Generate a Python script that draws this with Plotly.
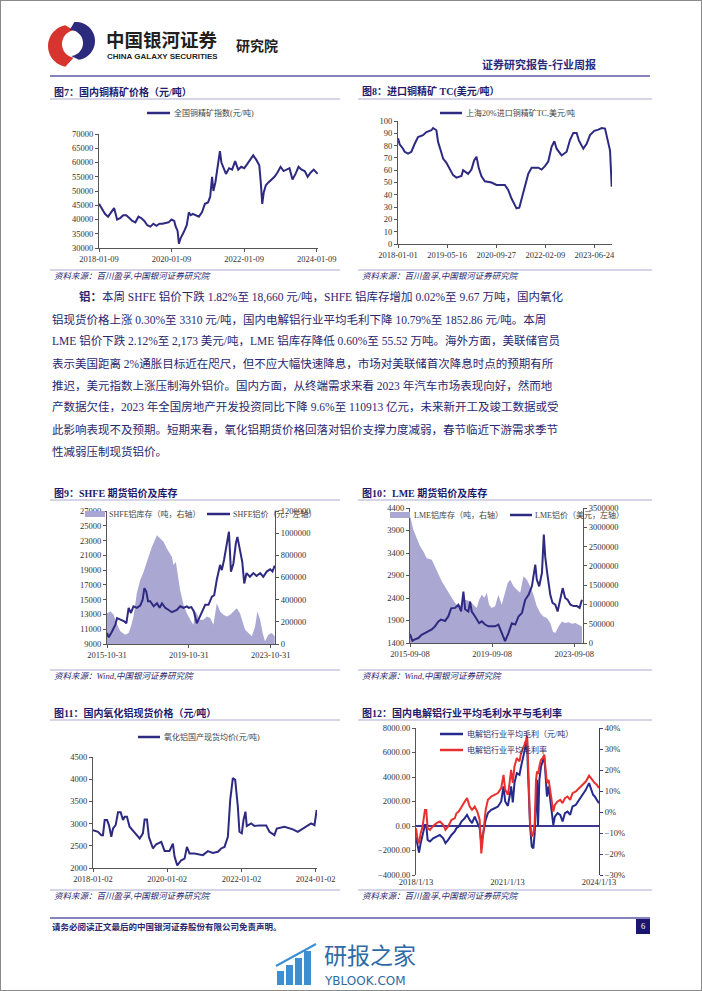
import math
import plotly.graph_objects as go

W, H = 702, 991
SERIF = "Liberation Serif, Noto Sans CJK SC"
CJK = "Noto Sans CJK SC"
NAVY = "#2e2a82"
TXT = "#2a276e"
LAV = "#aaa7d3"
RULE = "#aeacd2"
TICK = "#333333"
AX = "#555555"

# ---------------- data ----------------
# Fig 7: 全国铜精矿指数 (元/吨)
d7 = ['2018-01-09','2018-02-10','2018-03-10','2018-04-10','2018-05-10','2018-06-10','2018-07-10','2018-08-10','2018-09-10','2018-10-10','2018-11-10','2018-12-10',
      '2019-01-10','2019-02-10','2019-03-10','2019-04-10','2019-05-10','2019-06-10','2019-07-10','2019-08-10','2019-09-10','2019-10-10','2019-11-10','2019-12-10',
      '2020-01-09','2020-02-05','2020-02-20','2020-03-10','2020-03-23','2020-04-10','2020-05-10','2020-06-10','2020-07-01','2020-07-20','2020-08-10','2020-09-10','2020-10-10','2020-11-10','2020-12-10',
      '2021-01-10','2021-02-01','2021-02-20','2021-03-05','2021-03-25','2021-04-15','2021-05-10','2021-05-25','2021-06-15','2021-07-10','2021-08-10','2021-09-10','2021-10-10','2021-11-10','2021-12-10',
      '2022-01-10','2022-02-10','2022-03-10','2022-04-10','2022-05-10','2022-06-10','2022-06-25','2022-07-10','2022-07-25','2022-08-15','2022-09-10','2022-10-10','2022-11-10','2022-12-10',
      '2023-01-10','2023-02-10','2023-03-10','2023-04-10','2023-05-10','2023-06-10','2023-07-10','2023-08-10','2023-09-10','2023-10-10','2023-11-10','2023-12-10','2024-01-19']
v7 = [45500,43500,42000,41000,42500,44000,40000,40500,41500,41500,40500,39500,
      39000,41000,40500,39500,38000,37500,38500,37800,38500,38500,38800,39000,
      40000,39500,37500,36000,31500,33500,35500,38000,42500,41500,42000,41500,41000,42500,45500,
      46000,48000,55000,50000,53000,57500,64000,60000,58000,56000,58000,57500,60500,57500,58500,
      58000,59500,61000,62500,61000,59000,53000,45500,49500,52000,53000,54000,55000,56500,
      58500,57000,57500,58000,54000,56000,58500,57500,57000,55000,56500,57500,56000]
ticks7 = ['2018-01-09','2020-01-09','2022-01-09','2024-01-09']
labels7 = ['2018-01-09','2020-01-09','2022-01-09','2024-01-09']

# Fig 8: 上海20%进口铜精矿TC (美元/吨)
d8 = ['2018-01-01','2018-01-18','2018-02-21','2018-03-10','2018-04-13','2018-05-17','2018-06-20','2018-07-24','2018-09-13','2018-10-17',
      '2018-12-07','2018-12-24','2019-01-27','2019-02-13','2019-03-12','2019-04-05','2019-05-09','2019-06-12','2019-07-16','2019-08-19',
      '2019-10-09','2019-10-26','2019-12-16','2020-01-19','2020-02-15','2020-03-10','2020-04-03','2020-04-30','2020-06-03','2020-08-10',
      '2020-09-30','2020-12-24','2021-01-27','2021-03-02','2021-03-30','2021-04-22','2021-05-20','2021-06-12','2021-07-16','2021-08-19',
      '2021-09-22','2021-11-29','2022-01-02','2022-02-05','2022-03-11','2022-04-14','2022-05-12','2022-06-04','2022-07-25','2022-09-14',
      '2022-10-18','2022-11-21','2022-12-25','2023-01-18','2023-03-03','2023-04-06','2023-05-10','2023-06-23','2023-08-03','2023-09-06',
      '2023-10-10','2023-11-03','2023-11-30','2023-12-17']
v8 = [86,81,77.5,75,73.5,75,81.5,87,88.5,91,
      92.5,94.3,92.5,83,76,69.5,66,61.5,56,54,
      55.3,60,57,60.5,68,71,61.5,55,51,50,
      48,48,44,37,32,29,29.5,37,46.5,57,
      62,62,60.5,63.3,67,79,83.5,77.5,72,75,
      84.5,90.3,90.3,84,77.5,81.5,88.5,92,93,94.3,
      93.8,85.7,76,46.5]
ticks8 = ['2018-01-01','2019-05-16','2020-09-27','2022-02-09','2023-06-24']

# Fig 9: SHFE 铝价 (元/吨, 左) & SHFE 铝库存 (吨, 右)
d9p = ['2015-10-31','2015-12-01','2016-01-28','2016-03-28','2016-04-27','2016-06-25','2016-08-25','2016-10-10','2016-11-20','2016-12-31',
       '2017-02-15','2017-04-15','2017-06-15','2017-07-28','2017-08-28','2017-10-01','2017-11-01','2017-12-10','2018-02-10','2018-04-10',
       '2018-05-28','2018-07-08','2018-09-05','2018-11-05','2018-12-31','2019-03-31','2019-05-28','2019-07-28','2019-09-25','2019-10-31',
       '2019-12-15','2020-01-28','2020-03-20','2020-04-20','2020-06-18','2020-08-18','2020-10-15','2020-12-15','2021-01-25','2021-03-12',
       '2021-05-10','2021-06-10','2021-07-20','2021-09-05','2021-10-15','2021-11-20','2022-01-03','2022-02-15','2022-03-15','2022-04-30',
       '2022-06-10','2022-07-15','2022-08-25','2022-10-25','2022-12-25','2023-02-20','2023-04-25','2023-06-20','2023-08-20','2023-10-20',
       '2023-12-01','2024-01-10']
v9p = [10500,9900,10700,11600,12500,12300,12100,11800,13900,13200,
       14100,13900,14200,15000,16550,16100,14800,14800,14100,14500,
       13900,14500,13900,13600,13300,13600,14100,13900,14100,13900,
       14000,13400,11800,12300,13400,14300,14300,15400,15600,17700,
       19700,19000,20400,22200,24200,18800,19900,22600,23500,21700,
       20100,17200,18600,18100,18600,18200,18600,18100,18800,19100,
       18800,19600]
d9i = ['2015-10-31','2015-12-31','2016-02-28','2016-04-15','2016-06-25','2016-09-20','2016-11-20','2016-12-31','2017-02-15','2017-04-15',
       '2017-06-15','2017-08-15','2017-10-12','2018-01-10','2018-04-10','2018-06-05','2018-08-05','2018-10-03','2018-12-31','2019-01-31',
       '2019-03-12','2019-04-12','2019-05-28','2019-07-28','2019-09-25','2019-11-25','2020-01-20','2020-02-20','2020-03-20','2020-05-05',
       '2020-07-18','2020-09-15','2020-11-15','2021-01-12','2021-03-12','2021-05-10','2021-07-10','2021-09-05','2021-11-05','2022-01-03',
       '2022-03-03','2022-04-30','2022-06-18','2022-07-31','2022-09-28','2022-11-28','2023-01-25','2023-03-06','2023-04-25','2023-06-08',
       '2023-07-20','2023-09-18','2023-11-18','2024-01-10']
v9i = [278000,293000,263000,189000,114000,84000,99000,159000,249000,458000,
       578000,653000,743000,877000,982000,952000,922000,862000,787000,713000,
       743000,638000,488000,353000,278000,219000,174000,293000,278000,219000,
       219000,249000,234000,174000,368000,293000,263000,249000,263000,293000,
       323000,278000,189000,129000,99000,69000,159000,293000,219000,99000,
       24000,84000,99000,69000]
ticks9 = ['2015-10-31','2019-10-31','2023-10-31']

# Fig 10: LME 铝价 (美元, 左) & LME 铝库存 (吨, 右)
d10p = ['2015-09-08','2015-10-19','2015-12-05','2016-02-04','2016-04-01','2016-06-01','2016-07-30','2016-09-30','2016-11-25','2017-01-25',
        '2017-03-12','2017-05-23','2017-07-20','2017-09-08','2017-11-17','2018-01-17','2018-03-05','2018-04-15','2018-05-15','2018-07-12',
        '2018-08-12','2018-09-10','2018-11-08','2019-01-20','2019-03-08','2019-05-05','2019-07-05','2019-09-14','2019-10-30','2019-12-28',
        '2020-02-25','2020-04-25','2020-06-25','2020-08-23','2020-10-23','2020-12-20','2021-02-20','2021-04-18','2021-06-17','2021-08-15',
        '2021-10-14','2021-11-10','2021-12-23','2022-02-10','2022-03-15','2022-04-08','2022-05-14','2022-07-08','2022-08-17','2022-10-05',
        '2022-11-15','2023-01-02','2023-02-14','2023-03-30','2023-05-12','2023-07-02','2023-08-28','2023-10-26','2023-12-11','2024-01-22']
v10p = [1600,1450,1480,1510,1580,1620,1660,1700,1770,1880,
        1920,1890,1990,2170,2180,2250,2100,2540,2150,2100,
        2320,2100,1990,1840,1880,1810,1770,1770,1770,1810,
        1620,1440,1620,1840,1810,1990,2070,2360,2470,2660,
        3140,2810,2660,2960,3810,3330,2960,2470,2290,2250,
        2100,2360,2620,2400,2360,2250,2220,2220,2180,2360]
d10i = ['2015-09-08','2015-11-05','2016-01-05','2016-03-05','2016-05-01','2016-07-01','2016-09-30','2016-11-25','2017-01-25','2017-03-25',
        '2017-06-25','2017-09-20','2017-11-17','2018-01-17','2018-03-15','2018-05-15','2018-08-12','2018-10-10','2018-12-08','2019-01-20',
        '2019-03-08','2019-04-23','2019-06-05','2019-07-15','2019-09-01','2019-10-30','2019-12-28','2020-02-25','2020-04-25','2020-06-12',
        '2020-07-25','2020-09-22','2020-11-20','2021-01-20','2021-03-18','2021-05-17','2021-07-15','2021-09-12','2021-11-10','2022-01-10',
        '2022-03-08','2022-05-08','2022-07-08','2022-08-23','2022-10-05','2022-12-02','2023-02-01','2023-03-30','2023-05-30','2023-07-28',
        '2023-09-25','2023-11-23','2024-01-22']
v10i = [3300000,2940000,2720000,2510000,2380000,2200000,2160000,1990000,1770000,1600000,
        1380000,1170000,1040000,950000,990000,1120000,1080000,990000,910000,1120000,
        1250000,1170000,1300000,990000,910000,950000,1250000,990000,1300000,1560000,
        1640000,1470000,1380000,1300000,1730000,1640000,1470000,1250000,950000,780000,
        690000,650000,520000,300000,260000,430000,560000,520000,540000,500000,
        520000,480000,430000]
ticks10 = ['2015-09-08','2019-09-08','2023-09-08']

# Fig 11: 氧化铝国产现货均价 (元/吨)
d11 = ['2018-01-02','2018-02-20','2018-03-25','2018-04-10','2018-04-27','2018-05-20','2018-06-08','2018-07-01','2018-07-18','2018-08-13',
       '2018-09-05','2018-10-01','2018-10-24','2018-11-09','2018-12-02','2018-12-28','2019-02-16','2019-04-06','2019-05-08','2019-05-25',
       '2019-06-17','2019-07-06','2019-08-15','2019-09-16','2019-11-05','2019-12-07','2020-01-25','2020-02-27','2020-03-15','2020-04-10',
       '2020-05-19','2020-06-21','2020-07-14','2020-08-09','2020-09-27','2020-12-18','2021-02-05','2021-03-26','2021-05-15','2021-06-16',
       '2021-07-19','2021-08-21','2021-09-13','2021-10-09','2021-11-01','2021-11-27','2021-12-13','2022-01-05','2022-01-22','2022-02-10',
       '2022-02-23','2022-04-07','2022-05-10','2022-06-28','2022-09-02','2022-10-04','2022-11-22','2022-12-15','2023-03-01','2023-05-22',
       '2023-07-10','2023-08-28','2023-10-16','2023-11-18','2023-12-21','2024-01-12']
v11 = [2850,2815,2740,2740,3080,3080,2965,2700,2890,2965,
       3255,3255,3080,3155,3155,2930,2795,2665,2780,3095,
       3095,2700,2440,2535,2590,2385,2385,2550,2250,2060,
       2175,2210,2475,2325,2325,2290,2380,2340,2365,2440,
       2475,2700,3535,4025,3985,3385,2815,2780,3080,3270,
       2945,3005,2945,2960,2960,2815,2740,2890,2930,2870,
       2815,2890,2965,3005,2965,3310]
ticks11 = ['2018-01-02','2020-01-02','2022-01-02','2024-01-02']
labels11 = ['2018-01-02','2020-01-02','2022-01-02','2024-01-02']

# Fig 12: 电解铝行业平均毛利 (元/吨, 左) & 毛利率 (%, 右)
d12 = ['2018-01-13','2018-02-02','2018-02-18','2018-03-10','2018-04-02','2018-04-30','2018-05-16','2018-06-01','2018-06-29','2018-08-07',
       '2018-09-16','2018-10-26','2018-12-05','2019-01-01','2019-02-02','2019-03-14','2019-04-22','2019-05-12','2019-06-09','2019-07-11',
       '2019-08-20','2019-09-16','2019-10-18','2019-11-15','2019-12-17','2020-01-17','2020-02-14','2020-03-05','2020-04-02','2020-04-26',
       '2020-05-23','2020-07-02','2020-08-11','2020-09-20','2020-10-29','2020-11-26','2020-12-16','2021-01-17','2021-02-06','2021-02-25',
       '2021-03-17','2021-04-06','2021-05-04','2021-06-05','2021-06-24','2021-07-14','2021-08-03','2021-08-23','2021-09-04','2021-09-12',
       '2021-09-24','2021-10-10','2021-10-30','2021-11-18','2021-12-04','2021-12-20','2022-01-01','2022-01-13','2022-01-29','2022-02-18',
       '2022-03-10','2022-03-29','2022-04-10','2022-04-30','2022-05-20','2022-06-09','2022-06-29','2022-07-15','2022-08-03','2022-09-04',
       '2022-10-06','2022-11-03','2022-12-01','2023-01-01','2023-02-02','2023-03-02','2023-04-11','2023-05-20','2023-06-29','2023-08-08',
       '2023-09-16','2023-10-06','2023-11-03','2023-11-23','2023-12-17','2024-01-12']
profit12 = [-900,-1680,-2170,-1400,-590,90,90,-1135,-1270,-1000,
            -860,-730,-1000,-1400,-1135,-730,-450,-180,-45,365,
            640,910,500,230,770,230,-180,-1400,-320,500,
            1050,1320,1450,1590,2000,3230,2000,1640,2410,3230,
            1920,3500,4320,4180,4860,5410,5950,6500,7050,5000,
            1860,-45,-1680,-1820,-590,2410,3770,0,3770,4860,
            5410,5680,4450,2410,3230,2140,910,90,770,1050,
            910,365,1050,1180,910,1590,1730,2140,2550,2950,
            3500,3090,2550,2410,2140,1860]
margin12 = [-7.7,-13.3,-14.9,-10.1,-6.9,1.0,1.0,-7.7,-8.5,-6.6,
            -5.3,-4.5,-6.1,-8.5,-6.9,-3.7,-3.0,-0.6,0.2,2.6,
            5.0,6.6,2.6,1.0,2.6,0.2,-3.7,-19.7,-8.5,1.0,
            5.8,7.4,8.2,9.0,11.4,17.7,10.6,8.2,13.8,20.1,
            13.8,21.7,25.7,24.1,28.1,29.7,32.0,34.4,36.3,28.1,
            9.0,-5.3,-11.7,-10.1,-5.3,15.3,19.3,18.0,21.7,24.9,
            25.7,27.3,21.7,13.8,15.3,10.6,4.2,0.2,3.4,5.0,
            5.8,4.2,6.6,7.4,5.8,9.0,9.8,11.4,13.0,14.5,
            17.3,16.1,14.5,13.8,13.0,11.4]
ticks12 = ['2018-01-13','2021-01-13','2024-01-13']
labels12 = ['2018/1/13','2021/1/13','2024/1/13']

body_lines = [
    "<b>铝：</b>本周 SHFE 铝价下跌 1.82%至 18,660 元/吨，SHFE 铝库存增加 0.02%至 9.67 万吨，国内氧化",
    "铝现货价格上涨 0.30%至 3310 元/吨，国内电解铝行业平均毛利下降 10.79%至 1852.86 元/吨。本周",
    "LME 铝价下跌 2.12%至 2,173 美元/吨，LME 铝库存降低 0.60%至 55.52 万吨。海外方面，美联储官员",
    "表示美国距离 2%通胀目标近在咫尺，但不应大幅快速降息，市场对美联储首次降息时点的预期有所",
    "推迟，美元指数上涨压制海外铝价。国内方面，从终端需求来看 2023 年汽车市场表现向好，然而地",
    "产数据欠佳，2023 年全国房地产开发投资同比下降 9.6%至 110913 亿元，未来新开工及竣工数据或受",
    "此影响表现不及预期。短期来看，氧化铝期货价格回落对铝价支撑力度减弱，春节临近下游需求季节",
    "性减弱压制现货铝价。",
]

# ---------------- helpers ----------------
def X(x): return x / W
def Y(y): return 1 - y / H
def xd(a, b): return [a / W, b / W]
def yd(top, bot): return [1 - bot / H, 1 - top / H]

shapes, annotations = [], []

def line(x0, y0, x1, y1, color, width=1):
    shapes.append(dict(type='line', xref='paper', yref='paper', x0=X(x0), y0=Y(y0), x1=X(x1), y1=Y(y1),
                       line=dict(color=color, width=width), layer='above'))

def rect(x0, y0, x1, y1, fill, lc=None, lw=0):
    shapes.append(dict(type='rect', xref='paper', yref='paper', x0=X(x0), y0=Y(y0), x1=X(x1), y1=Y(y1),
                       fillcolor=fill, line=dict(color=lc or fill, width=lw), layer='above'))

def poly(points, fill):
    p = "M " + " L ".join(f"{X(a):.5f},{Y(b):.5f}" for a, b in points) + " Z"
    shapes.append(dict(type='path', xref='paper', yref='paper', path=p, fillcolor=fill,
                       line=dict(width=0, color=fill), layer='above'))

def text(x, y, s, size, color=TXT, anchor='left', family=SERIF):
    annotations.append(dict(x=X(x), y=Y(y), xref='paper', yref='paper', text=s, showarrow=False,
                            xanchor=anchor, yanchor='middle', font=dict(size=size, color=color, family=family)))

tickfont = dict(family=SERIF, size=8.5, color=TICK)

def xaxis(dom, anchor, rng, tv, tt, showline=True):
    return dict(domain=xd(*dom), anchor=anchor, type='date', range=rng, tickmode='array', tickvals=tv,
                ticktext=tt, showline=showline, linecolor=AX, linewidth=1, automargin=False,
                ticks='outside' if showline else '', ticklen=3, tickcolor=AX, showgrid=False,
                zeroline=False, tickfont=tickfont, tickangle=0, fixedrange=True)

def yaxis(anchor, rng, dtick, dom=None, side='left', overlaying=None, fmt='d', lc=AX, suffix=''):
    d = dict(anchor=anchor, range=rng, tick0=rng[0], dtick=dtick, side=side, showline=True,
             linecolor=lc, linewidth=1, ticks='outside', ticklen=3, tickcolor=lc, showgrid=False,
             zeroline=False, tickfont=tickfont, fixedrange=True, ticksuffix=suffix,
             tickformat=fmt, automargin=False)
    if overlaying:
        d['overlaying'] = overlaying
    else:
        d['domain'] = yd(*dom)
    return d

fig = go.Figure()

# ---------------- traces ----------------
fig.add_trace(go.Scatter(x=d7, y=v7, mode='lines', line=dict(color=NAVY, width=2), xaxis='x', yaxis='y'))
fig.add_trace(go.Scatter(x=d8, y=v8, mode='lines', line=dict(color=NAVY, width=2), xaxis='x2', yaxis='y2'))
fig.add_trace(go.Scatter(x=d9i, y=v9i, mode='lines', fill='tozeroy', fillcolor=LAV, line=dict(width=0, color=LAV),
                         xaxis='x3', yaxis='y3'))
fig.add_trace(go.Scatter(x=d9p, y=v9p, mode='lines', line=dict(color=NAVY, width=2), xaxis='x3', yaxis='y4'))
fig.add_trace(go.Scatter(x=d10i, y=v10i, mode='lines', fill='tozeroy', fillcolor=LAV, line=dict(width=0, color=LAV),
                         xaxis='x4', yaxis='y5'))
fig.add_trace(go.Scatter(x=d10p, y=v10p, mode='lines', line=dict(color=NAVY, width=2), xaxis='x4', yaxis='y6'))
fig.add_trace(go.Scatter(x=d11, y=v11, mode='lines', line=dict(color=NAVY, width=2), xaxis='x5', yaxis='y7'))
fig.add_trace(go.Scatter(x=d12, y=profit12, mode='lines', line=dict(color='#262a8c', width=2), xaxis='x6', yaxis='y8'))
fig.add_trace(go.Scatter(x=d12, y=margin12, mode='lines', line=dict(color='#e8312f', width=2), xaxis='x6', yaxis='y9'))

layout = dict(
    width=W, height=H, margin=dict(l=0, r=0, t=0, b=0, autoexpand=False), showlegend=False,
    paper_bgcolor='white', plot_bgcolor='white',
    xaxis=xaxis((99, 318), 'y', ['2018-01-09', '2024-01-22'], ticks7, labels7),
    yaxis=yaxis('x', [30000, 70000], 5000, dom=(134, 248)),
    xaxis2=xaxis((398, 612), 'y2', ['2018-01-01', '2023-12-20'], ticks8, ticks8),
    yaxis2=yaxis('x2', [0, 100], 10, dom=(121, 244)),
    xaxis3=xaxis((107, 275), 'y3', ['2015-10-31', '2024-01-15'], ticks9, ticks9),
    yaxis3=yaxis('x3', [0, 1200000], 200000, dom=(511, 644), side='right'),
    yaxis4=yaxis('x3', [9000, 27000], 2000, side='left', overlaying='y3'),
    xaxis4=xaxis((410, 583), 'y5', ['2015-09-08', '2024-02-10'], ticks10, ticks10),
    yaxis5=yaxis('x4', [0, 3500000], 500000, dom=(508, 643), side='right'),
    yaxis6=yaxis('x4', [1400, 4400], 500, side='left', overlaying='y5'),
    xaxis5=xaxis((93, 317), 'y7', ['2018-01-02', '2024-01-15'], ticks11, labels11),
    yaxis7=yaxis('x5', [2000, 4500], 500, dom=(757, 868)),
    xaxis6=xaxis((416, 599), 'y8', ['2018-01-13', '2024-01-13'], ticks12, labels12, showline=False),
    yaxis8=yaxis('x6', [-4000, 8000], 2000, dom=(728, 875), fmt='.2f'),
    yaxis9=yaxis('x6', [-30, 40], 10, side='right', overlaying='y8', lc='#3b3791', suffix='%'),
)
layout['yaxis8'].update(zeroline=True, zerolinecolor='#3b3791', zerolinewidth=1.5)

# ---------------- header ----------------
# logo swirl
red_pts = [(69 + 21 * math.cos(math.radians(t)), 46 + 21 * math.sin(math.radians(t))) for t in range(100, 261, 8)]
red_pts += [(76 + 14 * math.cos(math.radians(t)), 44 + 14 * math.sin(math.radians(t))) for t in range(260, 99, -8)]
poly(red_pts, '#d7332f')
blue_pts = [(76 + 19 * math.cos(math.radians(t)), 41 + 19 * math.sin(math.radians(t))) for t in range(-95, 86, 8)]
blue_pts += [(70 + 13 * math.cos(math.radians(t)), 43 + 13 * math.sin(math.radians(t))) for t in range(85, -96, -8)]
poly(blue_pts, '#2c2a7c')
text(104, 39, "<b>中国银河证券</b>", 18.5, '#231f20', family=CJK)
text(105, 56, "<b>CHINA GALAXY SECURITIES</b>", 8, '#231f20', family="Liberation Sans")
text(234, 45, "<b>研究院</b>", 14, '#231f20', family=CJK)
text(598, 64, "<b>证券研究报告-行业周报</b>", 11, '#2b2a7c', anchor='right', family=CJK)
line(50, 76, 650, 76, '#5c58a8', 1.5)

# ---------------- figure titles / sources ----------------
def panel(x0, x1, ytitle, title, ysrc, src):
    text(x0 + 2, ytitle, "<b>" + title + "</b>", 10, '#1f1b6b', family=SERIF)
    line(x0, ytitle + 7, x1, ytitle + 7, RULE, 1)
    line(x0, ysrc - 6, x1, ysrc - 6, RULE, 1)
    text(x0 + 2, ysrc, "<i>" + src + "</i>", 8.5, '#2a276e', family=SERIF)

panel(50, 340, 92, "图7：国内铜精矿价格（元/吨）", 276, "资料来源：百川盈孚,中国银河证券研究院")
panel(358, 652, 92, "图8：进口铜精矿 TC(美元/吨）", 276, "资料来源：百川盈孚,中国银河证券研究院")
panel(50, 340, 493, "图9：SHFE 期货铝价及库存", 676, "资料来源：Wind,中国银河证券研究院")
panel(358, 652, 493, "图10：LME 期货铝价及库存", 676, "资料来源：Wind,中国银河证券研究院")
panel(50, 340, 713, "图11：国内氧化铝现货价格（元/吨）", 896, "资料来源：百川盈孚,中国银河证券研究院")
panel(358, 652, 713, "图12：国内电解铝行业平均毛利水平与毛利率", 896, "资料来源：百川盈孚,中国银河证券研究院")

# ---------------- legends ----------------
LEGC = '#444444'
line(147, 113, 170, 113, NAVY, 2.5); text(172, 113, "全国铜精矿指数(元/吨)", 8, LEGC)
line(440, 113, 462, 113, NAVY, 2.5); text(464, 113, "上海20%进口铜精矿TC,美元/吨", 8, LEGC)
rect(85, 511, 105, 517, LAV); text(107, 514, "SHFE铝库存（吨，右轴）", 8, LEGC)
line(207, 514, 230, 514, NAVY, 2.5); text(231, 514, "SHFE铝价（元，左轴）", 8, LEGC)
rect(390, 512, 410, 518, LAV); text(412, 515, "LME铝库存（吨，右轴）", 8, LEGC)
line(510, 515, 532, 515, NAVY, 2.5); text(533, 515, "LME铝价（美元，左轴）", 8, LEGC)
line(138, 737, 160, 737, NAVY, 2.5); text(162, 737, "氧化铝国产现货均价(元/吨)", 8, LEGC)
line(440, 734, 463, 734, '#262a8c', 2.5); text(465, 734, "电解铝行业平均毛利（元/吨）", 8, '#262a6e')
line(440, 750, 463, 750, '#e8312f', 2.5); text(465, 750, "电解铝行业平均毛利率", 8, '#262a6e')

# ---------------- body paragraph ----------------
for i, s in enumerate(body_lines):
    text(77 if i == 0 else 50, 297 + 22 * i, s, 11.5, TXT)

# ---------------- footer ----------------
line(50, 918, 650, 918, '#5c58a8', 1.5)
text(50, 926, "<b>请务必阅读正文最后的中国银河证券股份有限公司免责声明。</b>", 8.5, '#2a276e', family=CJK)
rect(636, 919, 650, 934, '#1a1670')
text(643, 926, "6", 8.5, 'white', anchor='center')

# watermark
for k, (bx, bh) in enumerate([(277, 14), (286, 20), (295, 27), (304, 34)]):
    rect(bx, 985 - bh, bx + 7, 985, '#3d8fd4')
line(276, 966, 316, 944, '#3d8fd4', 2)
text(322, 954, "研报之家", 23, '#2e6aa5', family=CJK)
text(322, 981, "YBLOOK.COM", 12, '#2e6aa5', family="DejaVu Sans")

# page border
shapes.append(dict(type='rect', xref='paper', yref='paper', x0=0, y0=0, x1=1, y1=1,
                   line=dict(color='#8a8a8a', width=2), fillcolor='rgba(0,0,0,0)', layer='above'))

layout['shapes'] = shapes
layout['annotations'] = annotations
fig.update_layout(**layout)
fig.write_html("out.html", config={'displayModeBar': False, 'responsive': False},
               post_script="document.body.style.margin='0';document.body.style.overflow='hidden';"
                           "document.documentElement.style.overflow='hidden';")
